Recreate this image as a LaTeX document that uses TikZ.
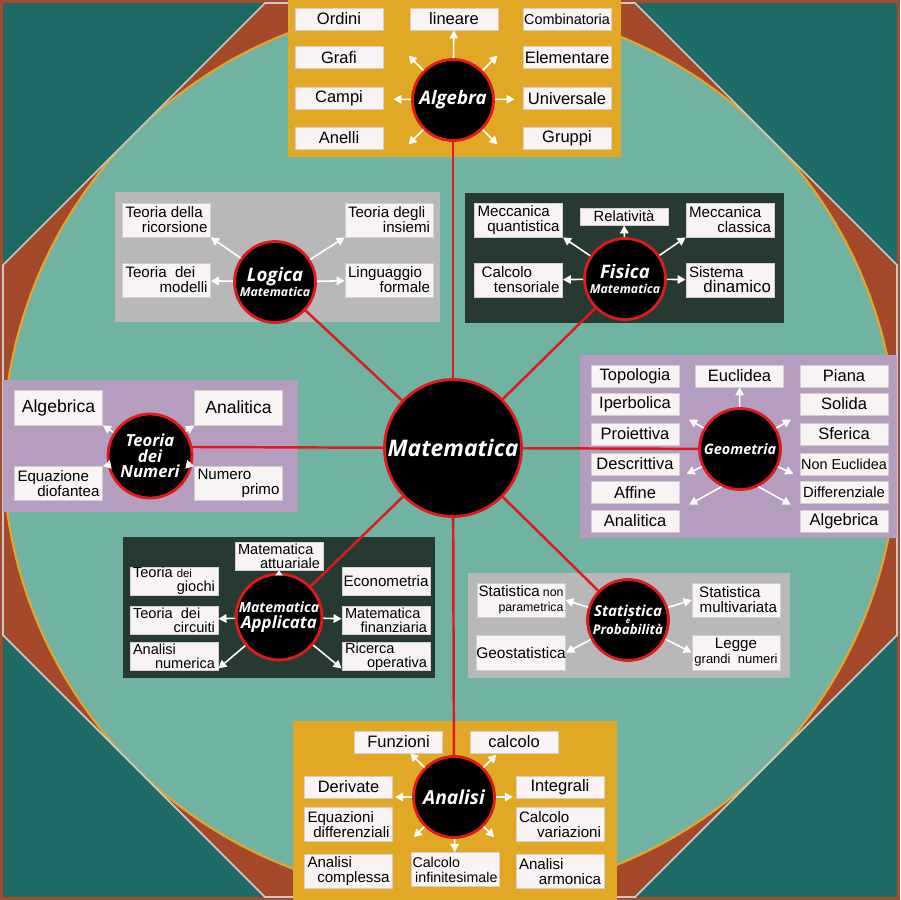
\documentclass[tikz,border=0pt]{standalone}
\usepackage{fontspec}
\setmainfont{Liberation Sans}
\newfontfamily\hubfont{Open Sans}
\usepackage{tikz}
\usetikzlibrary{arrows.meta}
\definecolor{edgerust}{HTML}{A24C2C}
\definecolor{deepteal}{HTML}{1D6A67}
\definecolor{rustfill}{HTML}{A4492A}
\definecolor{paleteal}{HTML}{70B3A2}
\definecolor{goldline}{HTML}{E3A62B}
\definecolor{octline}{HTML}{C8C8C8}
\definecolor{sunpanel}{HTML}{E0A824}
\definecolor{greypanel}{HTML}{B8B8B8}
\definecolor{slatepanel}{HTML}{263A31}
\definecolor{lilacpanel}{HTML}{B49DBF}
\definecolor{leaffill}{HTML}{F7F4F3}
\definecolor{leafline}{HTML}{D5CDD0}
\definecolor{hubred}{HTML}{E01A1C}
% first line flush left, second flush right
\newcommand{\splitln}[3][1.64cm]{\vbox{\hsize=#1\hbox to\hsize{#2\hfil}\hbox to\hsize{\hfil#3}}}
\tikzset{
  % Hub circles
  core/.style={circle,fill=black,draw=hubred,line width=1.6pt,minimum size=2.74cm,
               inner sep=0pt,text=white,align=center,
               font=\hubfont\bfseries\itshape\fontsize{13}{15}\selectfont},
  hub/.style={circle,fill=black,draw=hubred,line width=1.6pt,minimum size=1.62cm,
              inner sep=0pt,text=white,align=center,
              font=\hubfont\bfseries\itshape\fontsize{10.6}{12}\selectfont},
  % Leaf boxes
  leaf/.style={draw=leafline,line width=0.5pt,fill=leaffill,minimum width=1.76cm,
               minimum height=4.4mm,inner sep=0pt,align=center,
               font=\fontsize{9.4}{10}\selectfont},
  leaf2/.style={leaf,minimum height=6.8mm,font=\fontsize{8.6}{8.6}\selectfont},
  leaf3/.style={leaf,minimum height=5.6mm,font=\fontsize{8.3}{8}\selectfont},
  % Connectors
  link/.style={draw=hubred,line width=1.4pt},
  arw/.style={-{Triangle[length=1.6mm,width=1.7mm]},white,line width=0.9pt}
}
\begin{document}
\begin{tikzpicture}[x=0.02cm,y=-0.02cm]
  \useasboundingbox (0,0) rectangle (900,900);

  % backdrop
  \fill[edgerust] (0,0) rectangle (900,900);
  \fill[deepteal] (3,3) rectangle (897,897);
  \fill[rustfill] (265,3) -- (635,3) -- (897,265) -- (897,635) -- (635,897)
    -- (265,897) -- (3,635) -- (3,265) -- cycle;
  \begin{scope}
    \clip (265,3) -- (635,3) -- (897,265) -- (897,635) -- (635,897)
      -- (265,897) -- (3,635) -- (3,265) -- cycle;
    \filldraw[fill=paleteal,draw=goldline,line width=1.2pt] (450,450) circle (447);
  \end{scope}
  \draw[octline,line width=1pt] (265,3) -- (635,3) -- (897,265) -- (897,635)
    -- (635,897) -- (265,897) -- (3,635) -- (3,265) -- cycle;

  % panels
  \fill[sunpanel] (288,0) rectangle (621,157);
  \fill[greypanel] (115,192) rectangle (440,322);
  \fill[slatepanel] (465,193) rectangle (784,323);
  \fill[lilacpanel] (3,380) rectangle (298,512);
  \fill[lilacpanel] (580,355) rectangle (897,538);
  \fill[slatepanel] (123,537) rectangle (435,678);
  \fill[greypanel] (468,573) rectangle (790,678);
  \fill[sunpanel] (293,721) rectangle (617,900);

  % hubs
  \node[core] (mat) at (453,448) {Matematica};
  \node[hub] (alg) at (453,100) {Algebra};
  \node[hub] (log) at (275,282) {Logica\\[-3pt]{\fontsize{7}{8}\selectfont Matematica}};
  \node[hub] (fis) at (625,279) {Fisica\\[-3pt]{\fontsize{7}{8}\selectfont Matematica}};
  \node[hub,minimum size=1.68cm,font=\hubfont\bfseries\itshape\fontsize{9.5}{8.8}\selectfont]
    (num) at (150,456) {Teoria\\dei\\Numeri};
  \node[hub,font=\hubfont\bfseries\itshape\fontsize{8.2}{9}\selectfont] (geo) at (740,449) {Geometria};
  \node[hub,font=\hubfont\bfseries\itshape\fontsize{9.6}{10}\selectfont]
    (app) at (279,617) {{\fontsize{8}{9}\selectfont Matematica}\\[-1pt]Applicata};
  \node[hub,font=\hubfont\bfseries\itshape\fontsize{8.6}{9}\selectfont]
    (stat) at (628,620) {Statistica\\[-5pt]{\fontsize{4.5}{5}\selectfont e}\\[-3pt]{\fontsize{7.6}{8}\selectfont Probabilità}};
  \node[hub,font=\hubfont\bfseries\itshape\fontsize{11}{12}\selectfont] (ana) at (454,797) {Analisi};

  % Algebra leaves
  \node[leaf] (ordini) at (339,19) {Ordini};
  \node[leaf] (grafi) at (339,57.5) {Grafi};
  \node[leaf] (campi) at (339,98.5) {Campi};
  \node[leaf] (anelli) at (339,138) {Anelli};
  \node[leaf] (lin) at (454,19) {lineare};
  \node[leaf,font=\fontsize{8.2}{9}\selectfont] (combi) at (567,19) {Combinatoria};
  \node[leaf] (elem) at (567,57.5) {Elementare};
  \node[leaf] (univ) at (567,98.5) {Universale};
  \node[leaf] (grup) at (567,138) {Gruppi};

  % Logica leaves
  \node[leaf2] (ricors) at (166.5,220) {\splitln{Teoria della}{ricorsione}};
  \node[leaf2] (model) at (166.5,280) {\splitln{Teoria\ \ dei}{modelli}};
  \node[leaf2] (insiemi) at (389,220) {\splitln{Teoria degli}{insiemi}};
  \node[leaf2] (lingua) at (389,280) {\splitln{Linguaggio}{formale}};

  % Fisica leaves
  \node[leaf2] (quant) at (518.5,220) {\splitln{Meccanica}{quantistica}};
  \node[leaf,minimum height=3.4mm,font=\fontsize{8.4}{9}\selectfont] (relat) at (624,216.5) {Relatività};
  \node[leaf2] (classica) at (730,220) {\splitln{Meccanica}{classica}};
  \node[leaf2] (tensor) at (518.5,280) {\splitln{\ Calcolo}{tensoriale}};
  \node[leaf2] (dinam) at (730,280) {\splitln{Sistema}{{\fontsize{9.6}{9}\selectfont dinamico}}};

  % Teoria dei Numeri leaves
  \node[leaf,minimum height=7mm,font=\fontsize{10}{11}\selectfont] (nalg) at (58.5,407.5) {Algebrica};
  \node[leaf,minimum height=7mm,font=\fontsize{10}{11}\selectfont] (nanal) at (238.5,407.5) {Analitica};
  \node[leaf2] (diof) at (58.5,483.5) {\splitln{Equazione}{diofantea}};
  \node[leaf2] (primo) at (238.5,483.5) {\splitln{Numero}{primo}};

  % Geometria leaves
  \node[leaf] (topo) at (635,376) {Topologia};
  \node[leaf] (iperb) at (635,404) {Iperbolica};
  \node[leaf] (proi) at (635,434) {Proiettiva};
  \node[leaf] (descr) at (635,464) {Descrittiva};
  \node[leaf] (affine) at (635,492.5) {Affine};
  \node[leaf] (ganal) at (635,521) {Analitica};
  \node[leaf] (eucl) at (739.5,376) {Euclidea};
  \node[leaf] (piana) at (844,376) {Piana};
  \node[leaf] (solida) at (844,404) {Solida};
  \node[leaf] (sfer) at (844,434) {Sferica};
  \node[leaf,font=\fontsize{8.2}{9}\selectfont] (noneu) at (844,464) {Non Euclidea};
  \node[leaf,font=\fontsize{8.4}{9}\selectfont] (diffz) at (844,492.5) {Differenziale};
  \node[leaf] (galg) at (844,521) {Algebrica};

  % Matematica Applicata leaves
  \node[leaf3] (attu) at (279,556) {\splitln{Matematica}{attuariale}};
  \node[leaf3] (giochi) at (174,581) {\splitln{Teoria {\fontsize{6.5}{7}\selectfont dei}}{giochi}};
  \node[leaf3] (circ) at (174,620) {\splitln{Teoria\ \ dei}{circuiti}};
  \node[leaf3] (numer) at (174,656.5) {\splitln{Analisi}{numerica}};
  \node[leaf,minimum height=5.6mm,font=\fontsize{8.6}{9}\selectfont] (econ) at (386,581) {Econometria};
  \node[leaf3] (finanz) at (386,620) {\splitln{Matematica}{finanziaria}};
  \node[leaf3] (operat) at (386,656.5) {\splitln{Ricerca}{operativa}};

  % Statistica leaves
  \node[leaf2] (nonpar) at (521,600) {\splitln[1.7cm]{Statistica {\fontsize{7}{8}\selectfont non}}{{\fontsize{7}{8}\selectfont parametrica}}};
  \node[leaf,minimum height=7mm,font=\fontsize{8.8}{9}\selectfont] (geost) at (521,652.5) {Geostatistica};
  \node[leaf2] (multi) at (736,600) {\splitln{\ Statistica}{multivariata}};
  \node[leaf,minimum height=7mm,font=\fontsize{8.6}{8.6}\selectfont] (legge) at (736,652.5) {Legge\\{\fontsize{7.4}{8}\selectfont grandi\ \ numeri}};

  % Analisi leaves
  \node[leaf] (funz) at (398.5,742) {Funzioni};
  \node[leaf] (calc) at (514,742) {calcolo};
  \node[leaf] (deriv) at (348.5,787) {Derivate};
  \node[leaf2] (equaz) at (348.5,824.5) {\splitln{Equazioni}{differenziali}};
  \node[leaf2] (compl) at (348.5,871.5) {\splitln{Analisi}{complessa}};
  \node[leaf] (integ) at (560,787) {Integrali};
  \node[leaf2] (variaz) at (560,824.5) {\splitln{Calcolo}{variazioni}};
  \node[leaf2] (armon) at (560,871.5) {\splitln{Analisi}{armonica}};
  \node[leaf2,font=\fontsize{8.1}{8.6}\selectfont] (infin) at (455,869.5) {\splitln[1.7cm]{Calcolo}{infinitesimale}};

  % links from the centre
  \draw[link] (mat) -- (alg);
  \draw[link] (mat) -- (log);
  \draw[link] (mat) -- (fis);
  \draw[link] (mat) -- (num.12);
  \draw[link] (mat) -- (geo);
  \draw[link] (mat) -- (app);
  \draw[link] (mat) -- (stat);
  \draw[link] (mat) -- (ana);

  % Algebra arrows
  \draw[arw] (alg) -- (lin);
  \draw[arw,shorten >=2mm] (alg) -- (campi);
  \draw[arw,shorten >=1.6mm] (alg) -- (univ);
  \draw[arw] (alg.135) -- ++(135:4.2mm);
  \draw[arw] (alg.45) -- ++(45:4.2mm);
  \draw[arw] (alg.225) -- ++(225:4.2mm);
  \draw[arw] (alg.315) -- ++(315:4.2mm);

  % Logica arrows
  \draw[arw] (log) -- (ricors.south east);
  \draw[arw] (log) -- (model);
  \draw[arw] (log) -- (insiemi.south west);
  \draw[arw] (log) -- (lingua);

  % Fisica arrows
  \draw[arw] (fis) -- (quant.south east);
  \draw[arw] (fis) -- (relat);
  \draw[arw] (fis) -- (classica.south west);
  \draw[arw] (fis) -- (tensor);
  \draw[arw] (fis) -- (dinam);

  % Teoria dei Numeri arrows
  \draw[arw] (num) -- (nalg.south east);
  \draw[arw] (num) -- (nanal.south west);
  \draw[arw] (num) -- (diof.north east);
  \draw[arw] (num) -- (primo.north west);

  % Geometria arrows
  \draw[arw] (geo) -- (eucl);
  \draw[arw] (geo.150) -- ++(150:3.4mm);
  \draw[arw] (geo.30) -- ++(30:3.4mm);
  \draw[arw] (geo.205) -- ++(205:3.4mm);
  \draw[arw] (geo.335) -- ++(335:3.4mm);
  \draw[arw] (geo.244) -- ++(209:7.4mm);
  \draw[arw] (geo.296) -- ++(331:7.4mm);

  % Matematica Applicata arrows
  \draw[-{Triangle[length=1mm,width=1.5mm]},white,line width=0.9pt] (app) -- (attu);
  \draw[arw] (app) -- (circ);
  \draw[arw] (app) -- (finanz);
  \draw[arw] (app) -- (numer.-15);
  \draw[arw] (app) -- (operat.195);

  % Statistica arrows
  \draw[arw] (stat) -- (nonpar.east);
  \draw[arw] (stat) -- (multi.west);
  \draw[arw] (stat) -- (geost.east);
  \draw[arw] (stat) -- (legge.west);

  % Analisi arrows
  \draw[arw] (ana.135) -- ++(135:4mm);
  \draw[arw] (ana.45) -- ++(45:3.6mm);
  \draw[arw] (ana.180) -- ++(180:3.4mm);
  \draw[arw] (ana.0) -- ++(0:3.4mm);
  \draw[arw] (ana.225) -- ++(225:3mm);
  \draw[arw] (ana) -- (infin);
  \draw[arw] (ana.315) -- ++(315:3mm);
\end{tikzpicture}
\end{document}
